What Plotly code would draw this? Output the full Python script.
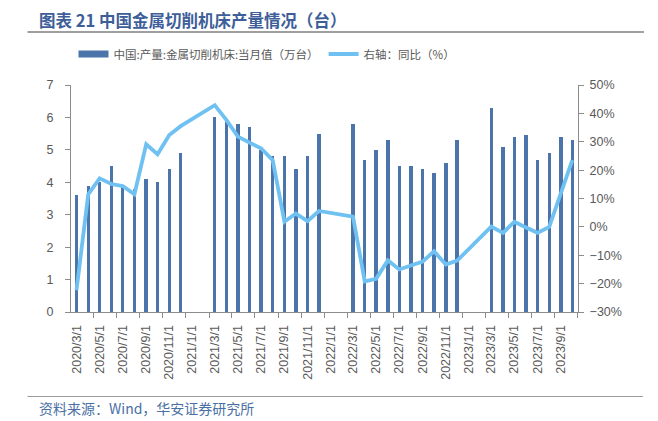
import plotly.graph_objects as go

months = (
    [f"2020-{m:02d}-01" for m in range(3, 13)]
    + [f"2021-{m:02d}-01" for m in range(3, 13)]
    + [f"2022-{m:02d}-01" for m in range(3, 13)]
    + [f"2023-{m:02d}-01" for m in range(3, 11)]
)

output_10k = [
    3.6, 3.9, 4.0, 4.5, 3.9, 3.8, 4.1, 4.0, 4.4, 4.9,
    6.0, 5.85, 5.8, 5.7, 5.0, 4.8, 4.8, 4.4, 4.8, 5.5,
    5.8, 4.7, 5.0, 5.3, 4.5, 4.5, 4.4, 4.3, 4.6, 5.3,
    6.3, 5.1, 5.4, 5.45, 4.7, 4.9, 5.4, 5.3,
]

yoy_pct = [
    -22.3, 11.4, 17.1, 15.1, 14.4, 11.5, 29.1, 25.6, 32.4, 35.5,
    42.9, 37.6, 31.8, 29.6, 27.7, 23.5, 1.8, 4.7, 2.0, 5.6,
    3.6, -19.2, -18.3, -11.8, -15.0, -13.6, -12.2, -8.6, -13.3, -11.9,
    0.1, -2.1, 1.8, -0.2, -2.1, 0.0, 11.8, 23.5,
]

bar_name = "中国:产量:金属切削机床:当月值（万台）"
line_name = "右轴：同比（%）"
title_text = "图表 21 中国金属切削机床产量情况（台）"
source_text = "资料来源：Wind，华安证券研究所"

BAR_C = "#4A74AA"
LINE_C = "#6FC1F2"
AX_C = "#8C8C8C"
TXT_C = "#595959"
CJK = "Noto Sans CJK SC, Liberation Sans, sans-serif"
LAT = "Liberation Sans, Arial, sans-serif"

# page body has an 8px default margin: figure is drawn 8px in from the top-left
OFF = 8
W, H = 658, 421                      # reference picture size
L, R, T, B = 70.5, 80, 85, 109       # plot area in reference pixels
pw, ph = W - L - R, H - T - B


def px(xp):
    return (xp - L) / pw


def py(yp):
    return (H - B - yp) / ph


fig = go.Figure()
fig.add_trace(go.Bar(
    x=months, y=output_10k, name=bar_name, showlegend=False,
    marker=dict(color=BAR_C, line=dict(width=0)),
    width=9 * 86400000, yaxis="y",
))
# legend swatch for the bars (wide rectangle like the reference)
fig.add_trace(go.Scatter(
    x=[None], y=[None], name=bar_name, mode="lines",
    line=dict(color=BAR_C, width=7), yaxis="y", hoverinfo="skip",
))
fig.add_trace(go.Scatter(
    x=months, y=yoy_pct, name=line_name, mode="lines",
    line=dict(color=LINE_C, width=3.8), yaxis="y2",
))

fig.update_layout(
    width=W - OFF, height=H - OFF,
    margin=dict(l=L - OFF, r=R, t=T - OFF, b=B, pad=0, autoexpand=False),
    paper_bgcolor="white", plot_bgcolor="white",
    font=dict(family=LAT, color=TXT_C, size=12),
    bargap=0,
    showlegend=True,
    legend=dict(
        orientation="h", x=px(73), xanchor="left", y=py(54), yanchor="middle",
        font=dict(family=CJK, size=11.5, color=TXT_C),
        itemwidth=30, tracegroupgap=0, bgcolor="rgba(0,0,0,0)",
    ),
    xaxis=dict(
        type="date",
        range=["2020-02-15 12:00", "2023-10-16"],
        tick0="2020-03-01", dtick="M2", tickformat="%Y/%-m/%-d",
        tickangle=-90, tickfont=dict(family=LAT, size=12.5, color=TXT_C),
        ticks="", showgrid=False, zeroline=False,
        showline=True, linecolor=AX_C, linewidth=1.2,
        ticklabelstandoff=7,
        minor=dict(ticks="outside", tick0="2020-02-15", dtick="M2",
                   ticklen=5, tickcolor=AX_C, tickwidth=1, showgrid=False),
    ),
    yaxis=dict(
        range=[0, 7], dtick=1, tick0=0,
        showgrid=False, zeroline=False,
        showline=True, linecolor=AX_C, linewidth=1.2,
        ticks="outside", ticklen=5, tickcolor=AX_C,
        ticklabelstandoff=9,
        tickfont=dict(family=LAT, size=12.5, color=TXT_C),
    ),
    yaxis2=dict(
        range=[-30, 50], dtick=10, tick0=-30, ticksuffix="%",
        overlaying="y", side="right",
        showgrid=False, zeroline=False,
        showline=True, linecolor=AX_C, linewidth=1.2,
        ticks="outside", ticklen=5, tickcolor=AX_C,
        ticklabelstandoff=3,
        tickfont=dict(family=LAT, size=12.5, color=TXT_C),
    ),
    annotations=[
        dict(text=f"<b>{title_text}</b>", xref="paper", yref="paper",
             x=px(36), y=py(20), xanchor="left", yanchor="middle",
             showarrow=False, font=dict(family=CJK, size=16.5, color="#3D5E98")),
        dict(text=source_text, xref="paper", yref="paper",
             x=px(36), y=py(408), xanchor="left", yanchor="middle",
             showarrow=False, font=dict(family=CJK, size=14, color="#4A6FA5")),
    ],
    shapes=[
        dict(type="line", xref="paper", yref="paper",
             x0=px(27), x1=px(644), y0=py(32), y1=py(32),
             line=dict(color="#7F7F7F", width=1.5)),
        dict(type="line", xref="paper", yref="paper",
             x0=px(27), x1=px(643), y0=py(396.5), y1=py(396.5),
             line=dict(color="#9A9A9A", width=1.2)),
    ],
)

fig.write_html("out.html")
